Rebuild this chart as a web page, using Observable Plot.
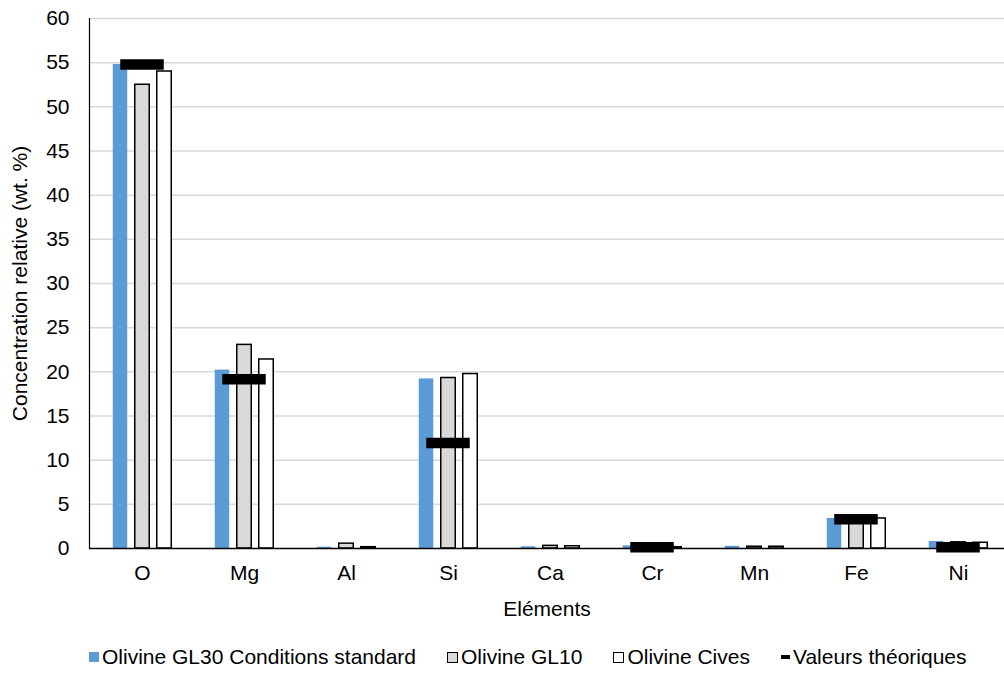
<!DOCTYPE html>
<html><head><meta charset="utf-8">
<script src="https://cdn.jsdelivr.net/npm/d3@7"></script>
<script src="https://cdn.jsdelivr.net/npm/@observablehq/plot@0.6"></script>
<style>
body{margin:0;background:#fff;font-family:"Liberation Sans",Arial,sans-serif;}
#legend{display:flex;align-items:center;margin-left:89px;margin-top:20px;font-size:21px;line-height:24px;color:#000;white-space:nowrap}
#legend .item{display:flex;align-items:center;margin-right:31px}
#legend .sw{display:inline-block;margin-right:3px;box-sizing:border-box}
</style></head><body><div id="chart"></div><div id="legend"></div>
<script>
const elements = ["O","Mg","Al","Si","Ca","Cr","Mn","Fe","Ni"];
const gl30  = [54.8, 20.2, 0.15, 19.2, 0.2, 0.3, 0.25, 3.4, 0.8];
const gl10  = [52.5, 23.05, 0.55, 19.3, 0.3, 0.2, 0.2, 3.4, 0.7];
const cives = [54.0, 21.4, 0.15, 19.75, 0.25, 0.15, 0.2, 3.4, 0.65];
const theo  = [54.8, 19.15, null, 11.95, null, 0.15, null, 3.3, 0.15];
const yTicks = [0,5,10,15,20,25,30,35,40,45,50,55,60];
const seriesNames = ["Olivine GL30 Conditions standard","Olivine GL10","Olivine Cives","Valeurs théoriques"];

const data = elements.map((e,i)=>({element:e, gl30:gl30[i], gl10:gl10[i], cives:cives[i]}));
const theoData = elements.map((e,i)=>({element:e, v:theo[i]})).filter(d=>d.v!=null);

const band = 102.5, bw = 15, inset = (band-bw)/2, tinset = (band-44)/2;
const chart = Plot.plot({
  width:1004, height:625, marginTop:18, marginBottom:77, marginLeft:89, marginRight:0,
  style:{fontFamily:"Liberation Sans, Arial, sans-serif", fontSize:"21px", color:"#000", background:"#fff"},
  x:{domain:elements, range:[89, 89+band*9], padding:0},
  y:{domain:[0,60]},
  marks:[
    Plot.gridY(yTicks.slice(1), {stroke:"#d9d9d9", strokeOpacity:1, strokeWidth:1.5}),
    Plot.barY(data,{x:"element", y:"gl30", fill:"#5b9bd5", dx:-22, insetLeft:inset, insetRight:inset}),
    Plot.barY(data,{x:"element", y:"gl10", fill:"#d9d9d9", stroke:"#000", strokeWidth:1.5, insetLeft:inset, insetRight:inset}),
    Plot.barY(data,{x:"element", y:"cives", fill:"#fff", stroke:"#000", strokeWidth:1.5, dx:22, insetLeft:inset, insetRight:inset}),
    Plot.tickY(theoData,{x:"element", y:"v", stroke:"#000", strokeWidth:10.5, insetLeft:tinset, insetRight:tinset}),
    Plot.ruleY([0],{stroke:"#000", strokeWidth:1.5}),
    Plot.frame({anchor:"left", stroke:"#000", strokeWidth:1.2}),
    Plot.axisY({ticks:yTicks, tickSize:0, tickPadding:20, label:"Concentration relative (wt. %)", labelAnchor:"center", labelOffset:77, labelArrow:"none"}),
    Plot.axisX({tickSize:0, tickPadding:17, label:"Eléments", labelAnchor:"center", labelOffset:67, labelArrow:"none"})
  ]
});
document.getElementById("chart").appendChild(chart);

const swatches = [
  {bg:"#5b9bd5", border:"none", w:10, h:10},
  {bg:"#d9d9d9", border:"1.5px solid #000", w:11, h:11},
  {bg:"#fff", border:"1.5px solid #000", w:11, h:11},
  {bg:"#000", border:"none", w:9, h:4}
];
const leg = document.getElementById("legend");
seriesNames.forEach((n,i)=>{
  const it = document.createElement("div"); it.className="item";
  const s = document.createElement("span"); s.className="sw";
  s.style.background=swatches[i].bg; s.style.border=swatches[i].border;
  s.style.width=swatches[i].w+"px"; s.style.height=swatches[i].h+"px";
  const t = document.createElement("span"); t.textContent=n;
  it.appendChild(s); it.appendChild(t); leg.appendChild(it);
});
</script></body></html>
